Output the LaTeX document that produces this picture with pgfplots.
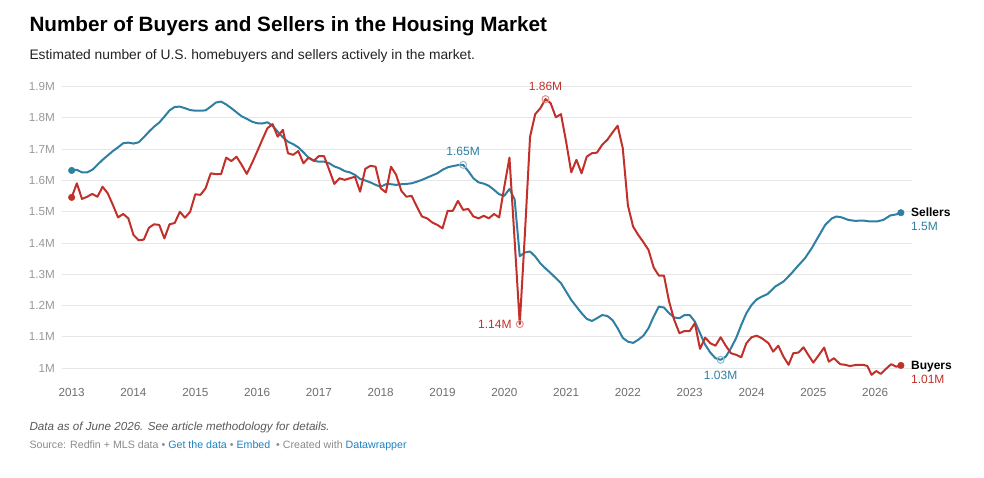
\documentclass[border=0pt]{standalone}
\usepackage{fontspec}
\setmainfont{Liberation Sans}
\usepackage{pgfplots}
\pgfplotsset{compat=1.18}
\usepackage{pgfplotstable}
\definecolor{sell}{HTML}{2E7FA1}
\definecolor{buy}{HTML}{C2302A}
\definecolor{gridc}{HTML}{E6E6E6}
\definecolor{ylab}{HTML}{999999}
\definecolor{xlab}{HTML}{6E6E6E}
\definecolor{subc}{HTML}{222222}
\definecolor{notec}{HTML}{595959}
\definecolor{srcc}{HTML}{8A8A8A}
\definecolor{linkc}{HTML}{1D81C2}

\pgfplotstableread{
m v
0 1.632
1 1.634
2 1.626
3 1.626
4 1.634
5 1.650
6 1.666
7 1.680
8 1.694
9 1.706
10 1.719
11 1.721
12 1.718
13 1.722
14 1.738
15 1.756
16 1.772
17 1.785
18 1.804
19 1.824
20 1.835
21 1.836
22 1.831
23 1.825
24 1.823
25 1.823
26 1.824
27 1.836
28 1.849
29 1.852
30 1.843
31 1.831
32 1.818
33 1.805
34 1.797
35 1.788
36 1.783
37 1.782
38 1.786
39 1.775
40 1.756
41 1.738
42 1.724
43 1.716
44 1.706
45 1.690
46 1.673
47 1.663
48 1.660
49 1.660
50 1.655
51 1.645
52 1.639
53 1.630
54 1.626
55 1.618
56 1.605
57 1.600
58 1.594
59 1.586
60 1.580
61 1.588
62 1.588
63 1.586
64 1.588
65 1.589
66 1.591
67 1.596
68 1.602
69 1.609
70 1.616
71 1.623
72 1.634
73 1.642
74 1.646
75 1.649
76 1.650
77 1.630
78 1.607
79 1.594
80 1.590
81 1.583
82 1.570
83 1.556
84 1.551
85 1.573
86 1.540
87 1.358
88 1.370
89 1.373
90 1.357
91 1.335
92 1.319
93 1.304
94 1.288
95 1.272
96 1.245
97 1.218
98 1.197
99 1.176
100 1.158
101 1.151
102 1.160
103 1.170
104 1.167
105 1.154
106 1.128
107 1.097
108 1.085
109 1.081
110 1.091
111 1.104
112 1.128
113 1.165
114 1.197
115 1.194
116 1.176
117 1.162
118 1.160
119 1.170
120 1.170
121 1.149
122 1.112
123 1.075
124 1.050
125 1.032
126 1.027
127 1.037
128 1.064
129 1.096
130 1.138
131 1.176
132 1.202
133 1.220
134 1.229
135.1 1.237
136.6 1.261
138.2 1.277
139.8 1.304
140.9 1.325
142.4 1.352
143.7 1.384
145.0 1.421
146.3 1.458
147.6 1.479
148.5 1.485
149.5 1.482
150.8 1.474
152.1 1.471
153.7 1.472
155.0 1.469
156.3 1.469
157.6 1.474
158.9 1.488
160.2 1.492
161 1.497
}\sellers

\pgfplotstableread{
m v
0 1.546
1 1.591
2 1.541
3 1.548
4 1.557
5 1.548
6 1.580
7 1.559
8 1.522
9 1.482
10 1.493
11 1.479
12 1.426
13 1.409
14 1.411
15 1.449
16 1.460
17 1.458
18 1.415
19 1.460
20 1.464
21 1.500
22 1.481
23 1.500
24 1.556
25 1.554
26 1.575
27 1.623
28 1.620
29 1.620
30 1.673
31 1.662
32 1.676
33 1.650
34 1.621
35 1.655
36 1.692
37 1.730
38 1.767
39 1.780
40 1.740
41 1.762
42 1.687
43 1.682
44 1.694
45 1.655
46 1.673
47 1.663
48 1.678
49 1.678
50 1.634
51 1.589
52 1.607
53 1.602
54 1.607
55 1.612
56 1.564
57 1.637
58 1.647
59 1.644
60 1.575
61 1.562
62 1.644
63 1.618
64 1.567
65 1.548
66 1.551
67 1.517
68 1.485
69 1.479
70 1.466
71 1.458
72 1.447
73 1.503
74 1.503
75 1.535
76 1.506
77 1.509
78 1.485
79 1.479
80 1.487
81 1.479
82 1.493
83 1.482
84 1.580
85 1.673
86 1.410
87 1.141
88 1.430
89 1.740
90 1.812
91 1.831
92 1.860
93 1.847
94 1.802
95 1.812
96 1.724
97 1.626
98 1.666
99 1.623
100 1.676
101 1.687
102 1.689
103 1.714
104 1.730
105 1.753
106 1.775
107 1.703
108 1.520
109 1.453
110 1.426
111 1.403
112 1.378
113 1.322
114 1.296
115 1.296
116 1.213
117 1.154
118 1.112
119 1.119
120 1.119
121 1.144
122 1.062
123 1.098
124 1.080
125 1.072
126 1.099
127 1.072
128 1.048
129 1.043
130 1.035
131 1.080
132 1.099
133 1.104
134 1.096
135.3 1.080
136.2 1.053
137.2 1.072
138.2 1.037
139.2 1.011
140.1 1.048
141.1 1.050
142.1 1.067
143.0 1.043
144.0 1.018
145.1 1.043
146.1 1.066
147.0 1.021
148.0 1.032
149.2 1.013
150.2 1.011
151.1 1.007
152.4 1.011
153.7 1.011
154.5 1.007
155.3 0.979
156.2 0.991
157.1 0.982
158.1 0.998
159.1 1.013
160.1 1.005
161 1.009
}\buyers

\begin{document}
\begin{tikzpicture}[x=1pt,y=1pt]
\path[use as bounding box] (0,0) rectangle (984,478);
\node[anchor=base west, inner sep=0pt, font=\fontsize{20.7}{24}\selectfont\bfseries] at (29.3,446.3) {Number of Buyers and Sellers in the Housing Market};
\node[anchor=base west, inner sep=0pt, text=subc, font=\fontsize{13.8}{16}\selectfont] at (29.3,418.7) {Estimated number of U.S. homebuyers and sellers actively in the market.};
\node[anchor=base west, inner sep=0pt, text=notec, font=\fontsize{11.65}{14}\selectfont\itshape] at (29.3,47) {Data as of June 2026. See article methodology for details.};
\node[anchor=base west, inner sep=0pt, text=srcc, font=\fontsize{10.65}{13}\selectfont] at (29.3,29.3) {Source: Redfin + MLS data \textbullet{} \textcolor{linkc}{Get the data} \textbullet{} \textcolor{linkc}{Embed} \ \textbullet{} Created with \textcolor{linkc}{Datawrapper}};
\begin{axis}[
  at={(62pt,94.1pt)}, anchor=south west,
  scale only axis, width=849.7pt, height=297.3pt,
  xmin=-1.88, xmax=163.1, ymin=0.95, ymax=1.9,
  clip=false,
  axis line style={draw=none},
  major tick length=0pt,
  ymajorgrids, grid style={gridc, line width=1pt},
  ytick={1,1.1,1.2,1.3,1.4,1.5,1.6,1.7,1.8,1.9},
  yticklabels={1M,1.1M,1.2M,1.3M,1.4M,1.5M,1.6M,1.7M,1.8M,1.9M},
  xtick={0,12,24,36,48,60,72,84,96,108,120,132,144,156},
  xticklabels={2013,2014,2015,2016,2017,2018,2019,2020,2021,2022,2023,2024,2025,2026},
  yticklabel style={anchor=east, inner sep=0pt, xshift=-7pt, text=ylab, font=\fontsize{11.7}{13}\selectfont},
  xticklabel style={anchor=north, inner sep=0pt, yshift=-4.4pt, text=xlab, font=\fontsize{11.7}{13}\selectfont},
  /pgf/number format/assume math mode=true,
  every axis plot/.append style={line join=round, line cap=round},
]
\addplot[sell, line width=2pt, mark=none] table[x=m,y=v] {\sellers};
\addplot[buy, line width=2pt, mark=none] table[x=m,y=v] {\buyers};
% hollow highlight markers with labels
\addplot[only marks, mark=o, mark size=3.5pt, mark options={draw=sell!55, fill=white, line width=1pt}] coordinates {(76,1.650)}
  node[anchor=base, yshift=9.7pt, inner sep=0pt, text=sell, font=\fontsize{12}{14}\selectfont] {1.65M};
\addplot[only marks, mark=o, mark size=3.5pt, mark options={draw=buy!55, fill=white, line width=1pt}] coordinates {(92,1.860)}
  node[anchor=base, yshift=9pt, inner sep=0pt, text=buy, font=\fontsize{12}{14}\selectfont] {1.86M};
\addplot[only marks, mark=o, mark size=3.5pt, mark options={draw=buy!55, fill=white, line width=1pt}] coordinates {(87,1.141)}
  node[anchor=base east, xshift=-8pt, yshift=-4pt, inner sep=0pt, text=buy, font=\fontsize{12}{14}\selectfont] {1.14M};
\addplot[only marks, mark=o, mark size=3.5pt, mark options={draw=sell!55, fill=white, line width=1pt}] coordinates {(126,1.027)}
  node[anchor=base, yshift=-20pt, inner sep=0pt, text=sell, font=\fontsize{12}{14}\selectfont] {1.03M};
% start and end dots
\addplot[only marks, mark=*, mark size=3.3pt, sell] coordinates {(0,1.632)};
\addplot[only marks, mark=*, mark size=3.3pt, buy] coordinates {(0,1.546)};
\addplot[only marks, mark=*, mark size=3.3pt, sell] coordinates {(161,1.497)}
  node[anchor=base west, xshift=10pt, yshift=-4pt, inner sep=0pt, text=black, font=\fontsize{12}{14}\selectfont\bfseries] {Sellers}
  node[anchor=base west, xshift=10pt, yshift=-18pt, inner sep=0pt, text=sell, font=\fontsize{12}{14}\selectfont] {1.5M};
\addplot[only marks, mark=*, mark size=3.3pt, buy] coordinates {(161,1.009)}
  node[anchor=base west, xshift=10pt, yshift=-3.8pt, inner sep=0pt, text=black, font=\fontsize{12}{14}\selectfont\bfseries] {Buyers}
  node[anchor=base west, xshift=10pt, yshift=-18.5pt, inner sep=0pt, text=buy, font=\fontsize{12}{14}\selectfont] {1.01M};
\end{axis}
\end{tikzpicture}
\end{document}
